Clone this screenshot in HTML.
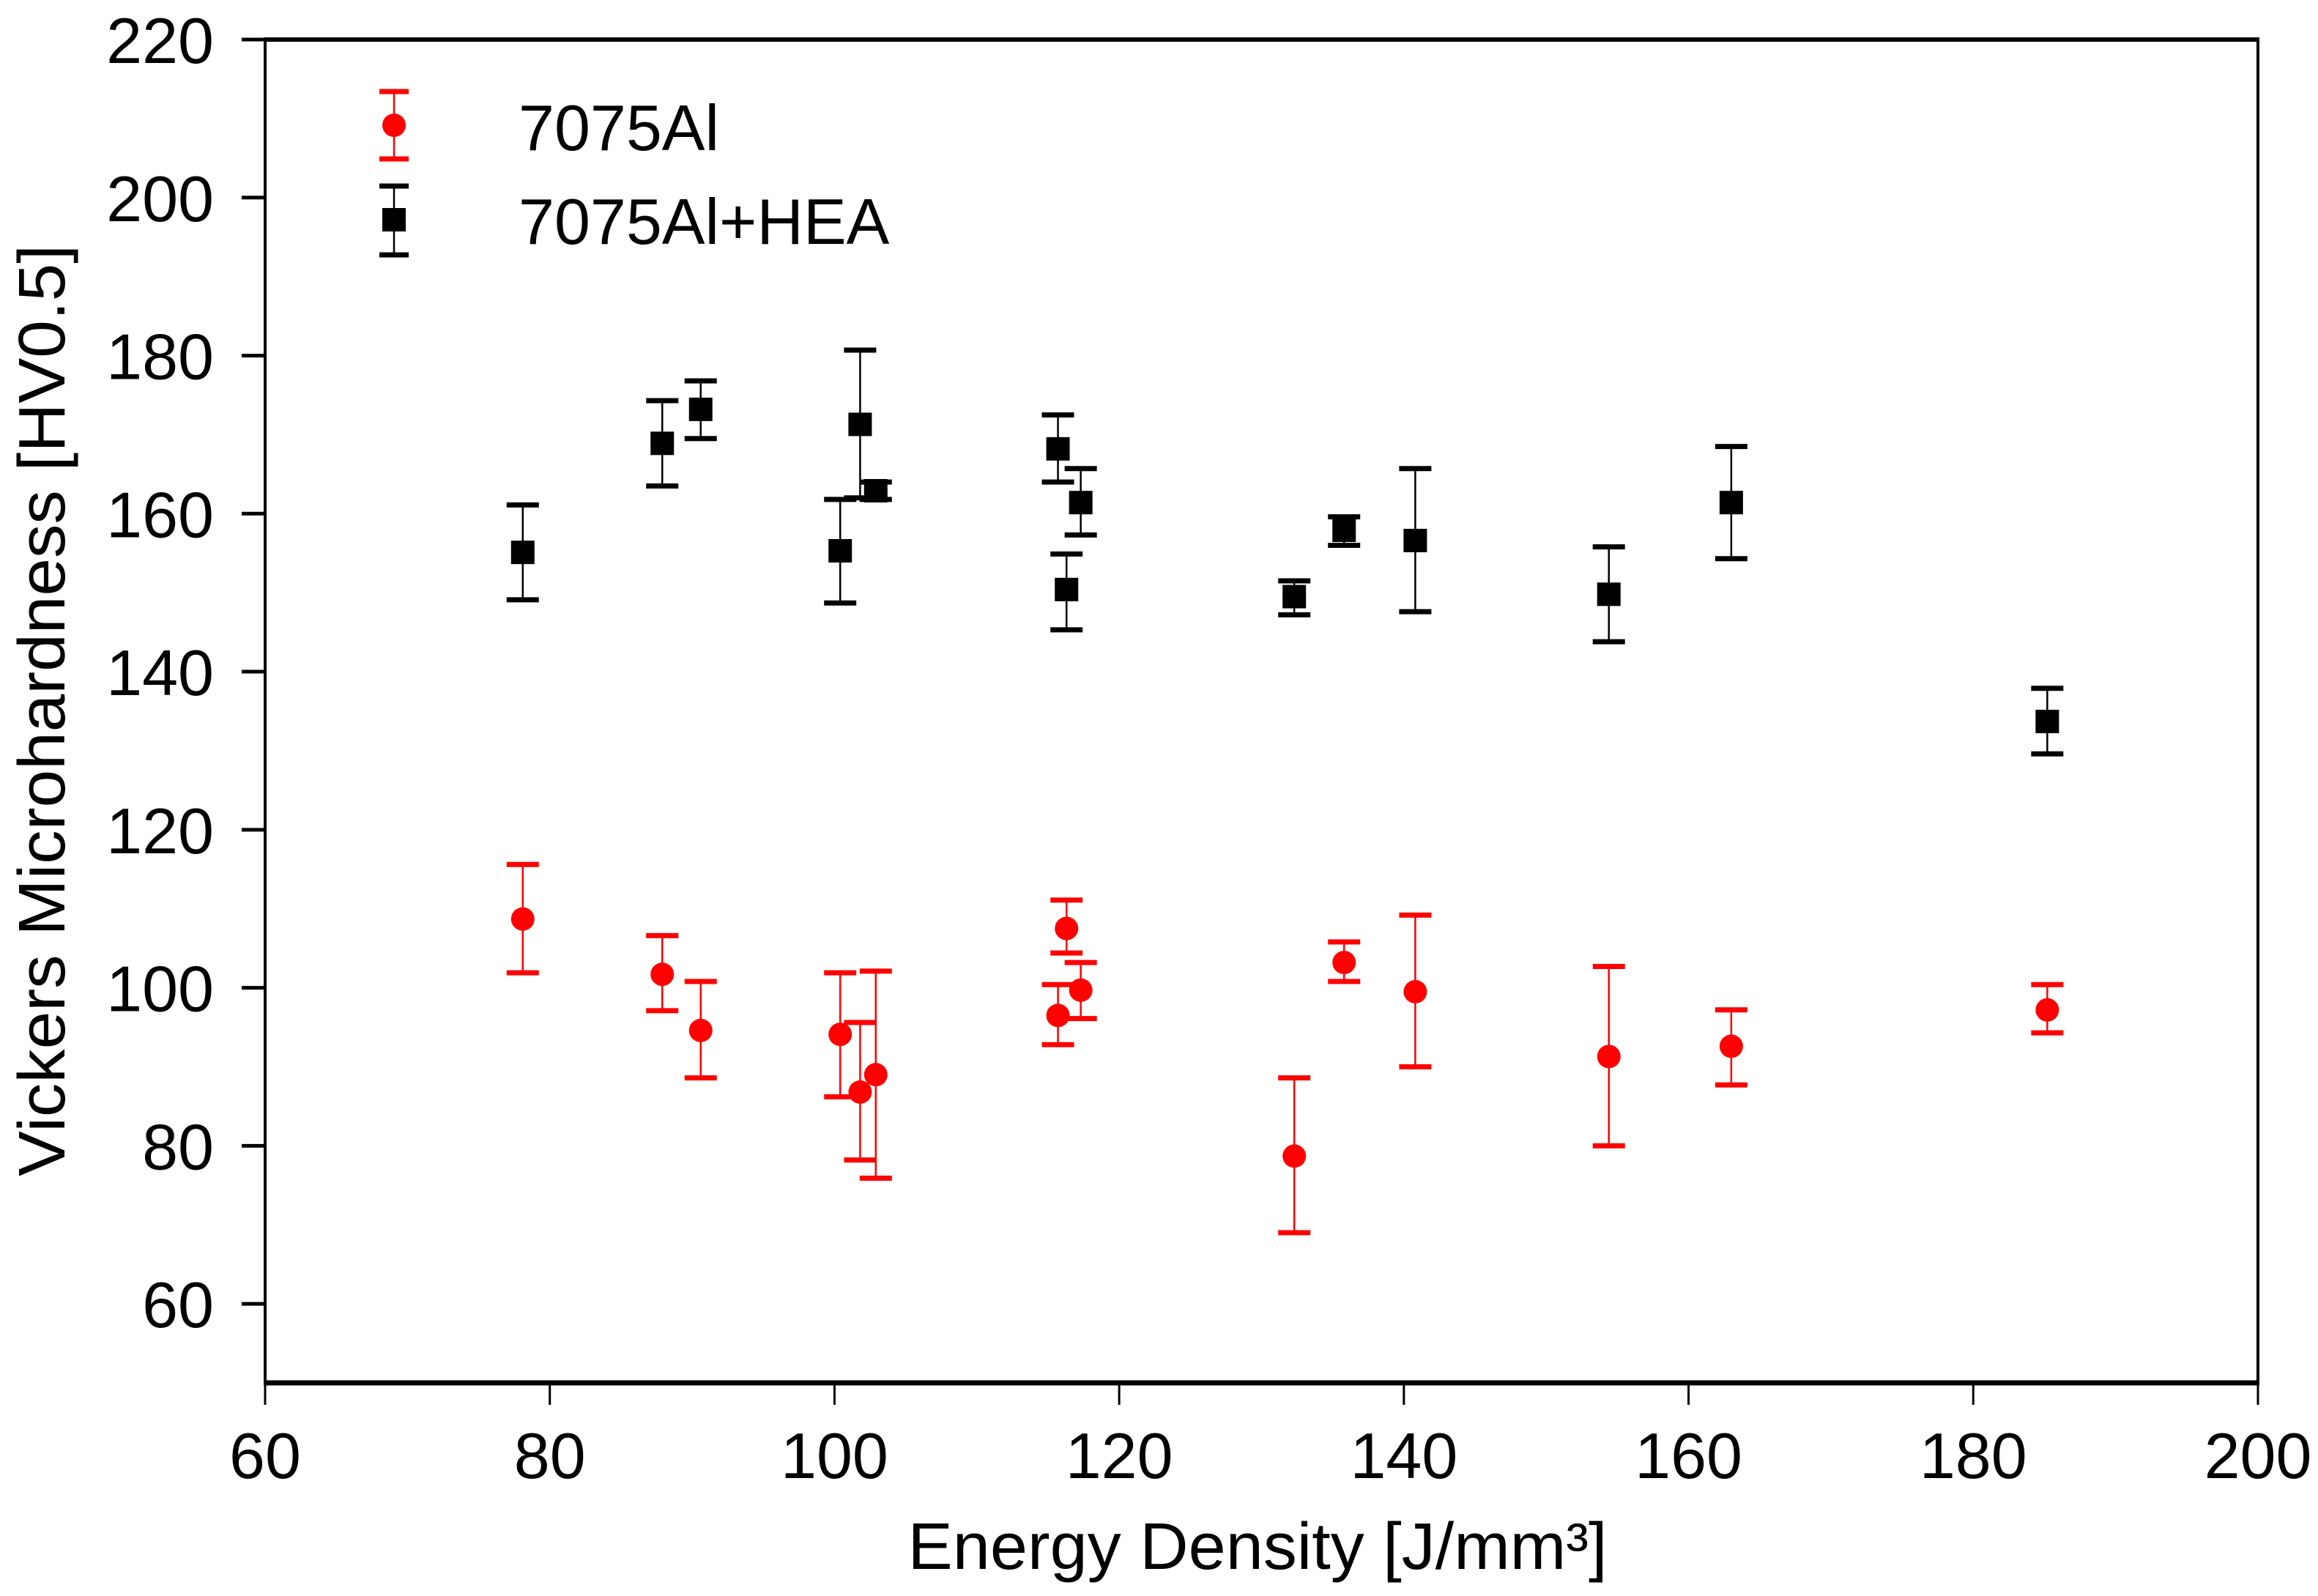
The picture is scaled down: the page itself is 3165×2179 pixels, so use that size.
<!DOCTYPE html>
<html><head><meta charset="utf-8"><style>
html,body{margin:0;padding:0;background:#fff;}
svg{display:block;font-family:"Liberation Sans",Arial,sans-serif;}
</style></head><body>
<svg id="chart" width="3165" height="2179" viewBox="0 0 3165 2179" xmlns="http://www.w3.org/2000/svg">
<rect x="0" y="0" width="3165" height="2179" fill="#fff"/>
<g id="marks"></g>
<g id="axes"></g>
</svg>
<script>
const xTicks = [60, 80, 100, 120, 140, 160, 180, 200];
const yTicks = [60, 80, 100, 120, 140, 160, 180, 200, 220];
const energyDensity = [78.1, 87.9, 90.6, 100.4, 101.8, 102.9, 115.7, 116.3, 117.3, 132.3, 135.8, 140.8, 154.4, 163.0, 185.2];
const alValues = [108.7, 101.7, 94.6, 94.1, 86.8, 89.0, 96.5, 107.5, 99.7, 78.7, 103.2, 99.5, 91.3, 92.6, 97.2];
const alUpper = [115.6, 106.6, 100.8, 101.9, 95.6, 102.1, 100.4, 111.1, 103.2, 88.6, 105.8, 109.2, 102.7, 97.2, 100.4];
const alLower = [101.9, 97.1, 88.6, 86.2, 78.2, 75.9, 92.8, 104.4, 96.1, 69.0, 100.8, 90.0, 80.0, 87.7, 94.3];
const heaValues = [155.1, 168.9, 173.2, 155.3, 171.3, 162.9, 168.2, 150.4, 161.4, 149.5, 157.9, 156.6, 149.8, 161.4, 133.7];
const heaUpper = [161.1, 174.3, 176.8, 161.8, 180.7, 164.0, 172.5, 154.9, 165.7, 151.5, 159.6, 165.7, 155.8, 168.5, 137.9];
const heaLower = [149.1, 163.5, 169.5, 148.7, 162.0, 161.8, 164.0, 145.3, 157.3, 147.2, 156.0, 147.6, 143.8, 154.3, 129.6];

const L=362, R=3083, T=54, B=1888, XMIN=60, XMAX=200, YMIN=50, YMAX=220;
const NS="http://www.w3.org/2000/svg";
function sx(v){return L+(v-XMIN)/(XMAX-XMIN)*(R-L);}
function sy(v){return B-(v-YMIN)/(YMAX-YMIN)*(B-T);}
function mk(tag,attrs,parent){const e=document.createElementNS(NS,tag);for(const k in attrs)e.setAttribute(k,attrs[k]);parent.appendChild(e);return e;}
const marks=document.getElementById('marks');
const axes=document.getElementById('axes');

function errbar(g,x,yv,hi,lo,color,lw){
  mk('line',{x1:x,x2:x,y1:sy(hi),y2:sy(lo),stroke:color,'stroke-width':lw},g);
  mk('line',{x1:x-22,x2:x+22,y1:sy(hi),y2:sy(hi),stroke:color,'stroke-width':7},g);
  mk('line',{x1:x-22,x2:x+22,y1:sy(lo),y2:sy(lo),stroke:color,'stroke-width':7},g);
}
for(let i=0;i<energyDensity.length;i++){
  const x=sx(energyDensity[i]);
  const g=mk('g',{},marks);
  
  
  errbar(g,x,heaValues[i],heaUpper[i],heaLower[i],'#000',2.5);
  mk('rect',{x:x-16,y:sy(heaValues[i])-16,width:32,height:32,fill:'#000'},g);
}
for(let i=0;i<energyDensity.length;i++){
  const x=sx(energyDensity[i]);
  const g=mk('g',{},marks);
  
  
  errbar(g,x,alValues[i],alUpper[i],alLower[i],'#ff0000',2.5);
  mk('circle',{cx:x,cy:sy(alValues[i]),r:16,fill:'#ff0000'},g);
}
// axes frame
const frame=mk('g',{},axes);


mk('line',{x1:L-2,x2:R+2,y1:T,y2:T,stroke:'#000','stroke-width':6},frame);
mk('line',{x1:L-2,x2:R+2,y1:B,y2:B,stroke:'#000','stroke-width':7},frame);
mk('line',{x1:L,x2:L,y1:T,y2:B,stroke:'#000','stroke-width':4},frame);
mk('line',{x1:R,x2:R,y1:T,y2:B,stroke:'#000','stroke-width':4},frame);
for(const t of xTicks){
  const x=sx(t);
  mk('line',{x1:x,x2:x,y1:B,y2:B+30,stroke:'#000','stroke-width':3},axes);
  const tx=mk('text',{x:x,y:2018,'font-size':88,'text-anchor':'middle',fill:'#000'},axes);
  tx.textContent=t;
  
  
}
for(const t of yTicks){
  const y=sy(t);
  mk('line',{x1:L-32,x2:L,y1:y,y2:y,stroke:'#000','stroke-width':5},axes);
  const tx=mk('text',{x:292,y:y+32,'font-size':88,'text-anchor':'end',fill:'#000'},axes);
  tx.textContent=t;
  
  
}
</script>
<svg style="position:absolute;left:0;top:0" width="3165" height="2179" xmlns="http://www.w3.org/2000/svg" font-family="Liberation Sans, Arial, sans-serif">
<text x="1717" y="2142" font-size="90" text-anchor="middle" textLength="955" lengthAdjust="spacingAndGlyphs">Energy Density [J/mm³]</text>
<text transform="translate(88,970) rotate(-90)" x="0" y="0" font-size="90" text-anchor="middle" textLength="1272" lengthAdjust="spacingAndGlyphs">Vickers Microhardness [HV0.5]</text>
<g>
<g>
<line x1="538" x2="538" y1="125" y2="217" stroke="#ff0000" stroke-width="2.5"/>
<line x1="518" x2="558" y1="125" y2="125" stroke="#ff0000" stroke-width="7"/>
<line x1="518" x2="558" y1="217" y2="217" stroke="#ff0000" stroke-width="7"/>
<circle cx="538" cy="171" r="16" fill="#ff0000"/>
<text x="708" y="205" font-size="88">7075Al</text>
</g>
<g>
<line x1="538" x2="538" y1="254" y2="348" stroke="#000" stroke-width="2.5"/>
<line x1="518" x2="558" y1="254" y2="254" stroke="#000" stroke-width="7"/>
<line x1="518" x2="558" y1="348" y2="348" stroke="#000" stroke-width="7"/>
<rect x="522" y="284" width="32" height="32" fill="#000"/>
<text x="708" y="333" font-size="88">7075Al+HEA</text>
</g>
</g>
</svg>
</body></html>
